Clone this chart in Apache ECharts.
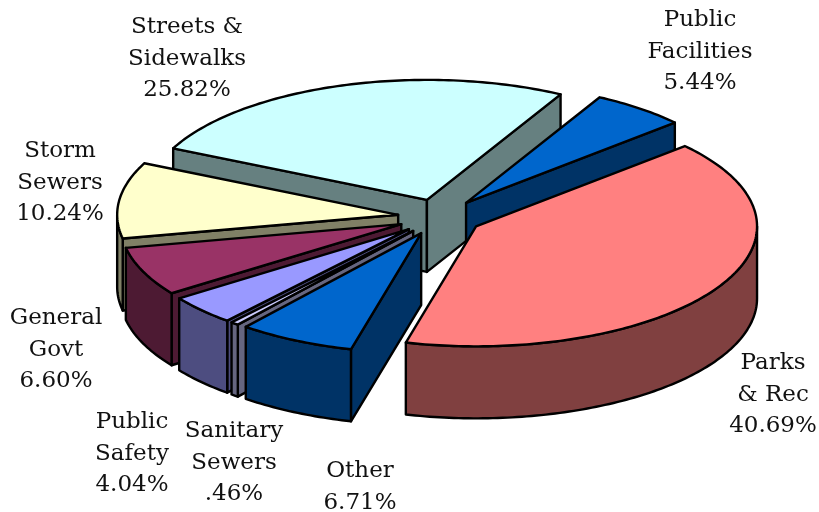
<!DOCTYPE html>
<html lang="en">
<head>
    <meta charset="UTF-8">
    <title>Exploded 3D pie</title>
    <script src="https://cdn.jsdelivr.net/npm/echarts@6/dist/echarts.min.js"></script>
    <style>
        html, body { margin: 0; padding: 0; background: #fff; }
        #main { width: 819px; height: 512px; }
    </style>
</head>
<body>
<div id="main"></div>
<script>
    // data, clockwise from the top
    var categories = ['Public\nFacilities', 'Parks\n& Rec', 'Other', 'Sanitary\nSewers', 'Public\nSafety', 'General\nGovt', 'Storm\nSewers', 'Streets &\nSidewalks'];
    var shares = [5.44, 40.69, 6.71, 0.46, 4.04, 6.60, 10.24, 25.82];
    var topColors = ['#0066CC', '#FF8080', '#0066CC', '#CCCCFF', '#9999FF', '#993366', '#FFFFCC', '#CCFFFF'];
    var sideColors = ['#003366', '#804040', '#003366', '#666680', '#4D4D80', '#4D1A33', '#808066', '#668080'];

    // layout of the tilted pie
    var cx = 440, cy = 217, rx = 281, ry = 120, depth = 72, explode = 0.15, startDeg = 61.6;
    var labelX = [700, 773, 360, 234, 132, 56, 60, 187];
    var labelY = [52, 395, 487, 463, 454, 350, 183, 59];
    // back to front
    var paintOrder = [7, 0, 6, 1, 5, 4, 3, 2];

    var total = shares.reduce(function (a, b) { return a + b; }, 0);
    var angles = [], acc = 0;
    shares.forEach(function (v) {
        var from = startDeg - acc / total * 360;
        acc += v;
        angles.push([from, startDeg - acc / total * 360]);
    });

    function pt(tipX, tipY, deg, dz) {
        var r = deg * Math.PI / 180;
        return [tipX + rx * Math.cos(r), tipY - ry * Math.sin(r) + dz];
    }

    function arc(tipX, tipY, from, to, dz) {
        var out = [], n = Math.max(2, Math.ceil(Math.abs(from - to)));
        for (var i = 0; i <= n; i++) {
            out.push(pt(tipX, tipY, from + (to - from) * i / n, dz));
        }
        return out;
    }

    function face(points, fill) {
        return {
            type: 'polygon',
            shape: { points: points },
            style: { fill: fill, stroke: '#000', lineWidth: 2.4, lineJoin: 'round' }
        };
    }

    // a cut wall shows only if the slice lies on the far side of its top edge
    function wallShows(deg, midDeg) {
        var e = deg * Math.PI / 180, m = midDeg * Math.PI / 180;
        var dx = rx * Math.cos(e), dy = -ry * Math.sin(e);
        var mx = rx * Math.cos(m), my = -ry * Math.sin(m);
        return dx * (dx * my - dy * mx) < 0;
    }

    function renderSlice(params, api) {
        var i = api.value(0);
        var from = angles[i][0], to = angles[i][1];
        var midDeg = (from + to) / 2, mid = midDeg * Math.PI / 180;
        var tipX = cx + explode * rx * Math.cos(mid);
        var tipY = cy - explode * ry * Math.sin(mid);
        var side = sideColors[i];
        var kids = [];
        var tip = [tipX, tipY], tipLow = [tipX, tipY + depth];

        [from, to].forEach(function (deg) {
            if (wallShows(deg, midDeg)) {
                kids.push(face([tip, pt(tipX, tipY, deg, 0), pt(tipX, tipY, deg, depth), tipLow], side));
            }
        });

        // outer rim, only the part that faces the viewer (sin < 0)
        var k = Math.ceil(to / 360 - 1);
        for (var turn = k; turn <= k + 1; turn++) {
            var lo = Math.max(to, -180 + 360 * turn), hi = Math.min(from, 360 * turn);
            if (hi > lo) {
                kids.push(face(arc(tipX, tipY, hi, lo, 0).concat(arc(tipX, tipY, lo, hi, depth)), side));
            }
        }

        // top face
        kids.push(face([tip].concat(arc(tipX, tipY, from, to, 0)), topColors[i]));

        return { type: 'group', children: kids };
    }

    function renderLabel(params, api) {
        var i = api.value(0);
        var pct = shares[i].toFixed(2).replace(/^0/, '') + '%';
        return {
            type: 'text',
            style: {
                text: categories[i] + '\n' + pct,
                x: labelX[i],
                y: labelY[i],
                fill: '#111',
                font: '23px "DejaVu Serif"',
                align: 'center',
                verticalAlign: 'middle',
                lineHeight: 31.5
            }
        };
    }

    var myChart = echarts.init(document.getElementById('main'));
    myChart.setOption({
        animation: false,
        backgroundColor: '#fff',
        series: [{
            type: 'custom',
            coordinateSystem: 'none',
            renderItem: renderSlice,
            data: paintOrder.map(function (i) { return [i]; })
        }, {
            type: 'custom',
            coordinateSystem: 'none',
            renderItem: renderLabel,
            z: 5,
            data: categories.map(function (c, i) { return [i]; })
        }]
    });
</script>
</body>
</html>
